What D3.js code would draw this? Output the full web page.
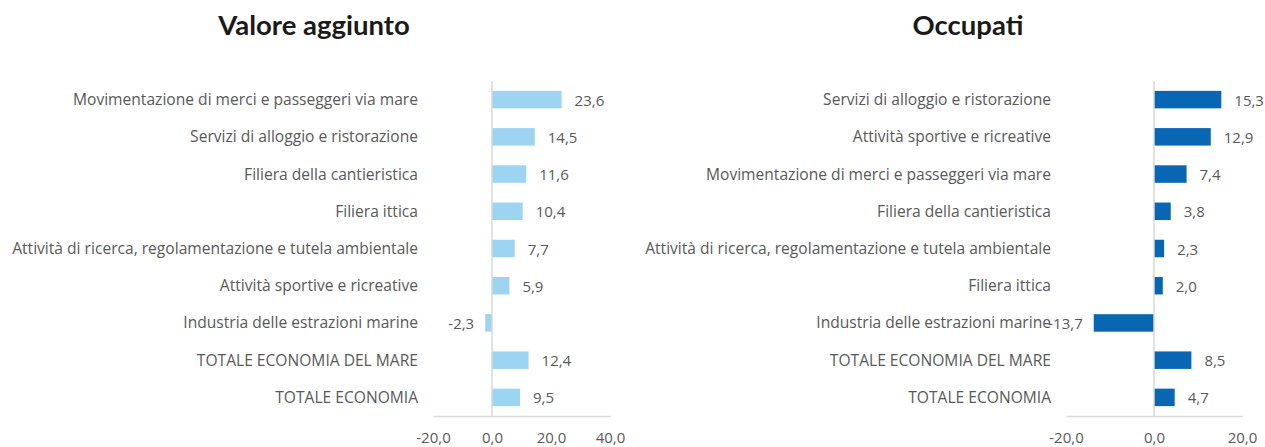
<!DOCTYPE html>
<html>
<head>
<meta charset="utf-8">
<style>
  body {
      margin: 0;
      background: #fff;
      font-family: "Open Sans", sans-serif;
  }
  .axis path { stroke: #d9d9d9; stroke-width: 1.5px; }
  .axis text { fill: #595959; font-size: 15px; font-family: "Open Sans", sans-serif; }
  .cat { fill: #595959; font-size: 15.6px; }
  .val { fill: #595959; font-size: 15px; }
  .title { fill: #1a1a1a; font-size: 27.5px; font-weight: bold; font-family: Lato, sans-serif; }
</style>
</head>
<body>
<script src="https://d3js.org/d3.v7.min.js"></script>
<script>

  // valore aggiunto
  var vaCategories = [
      "Movimentazione di merci e passeggeri via mare",
      "Servizi di alloggio e ristorazione",
      "Filiera della cantieristica",
      "Filiera ittica",
      "Attività di ricerca, regolamentazione e tutela ambientale",
      "Attività sportive e ricreative",
      "Industria delle estrazioni marine",
      "TOTALE ECONOMIA DEL MARE",
      "TOTALE ECONOMIA"
  ];
  var vaValues = [23.6, 14.5, 11.6, 10.4, 7.7, 5.9, -2.3, 12.4, 9.5];
  var vaTicks = [-20, 0, 20, 40];

  // occupati
  var occCategories = [
      "Servizi di alloggio e ristorazione",
      "Attività sportive e ricreative",
      "Movimentazione di merci e passeggeri via mare",
      "Filiera della cantieristica",
      "Attività di ricerca, regolamentazione e tutela ambientale",
      "Filiera ittica",
      "Industria delle estrazioni marine",
      "TOTALE ECONOMIA DEL MARE",
      "TOTALE ECONOMIA"
  ];
  var occValues = [15.3, 12.9, 7.4, 3.8, 2.3, 2.0, -13.7, 8.5, 4.7];
  var occTicks = [-20, 0, 20];

  var width = 1265, height = 447;
  var fmt = function(v) { return d3.format(".1f")(v).replace(".", ",").replace("−", "-"); };

  var svg = d3.select("body").append("svg")
      .attr("width", width)
      .attr("height", height);

  function panel(opt) {
      var g = svg.append("g");

      var x = d3.scaleLinear()
          .domain([opt.ticks[0], opt.ticks[opt.ticks.length - 1]])
          .range(opt.xRange);

      var y = d3.scaleBand()
          .domain(opt.categories)
          .range([81, 416])
          .paddingInner(0.53)
          .paddingOuter(0.265);

      g.append("text")
          .attr("class", "title")
          .attr("x", opt.titleX)
          .attr("y", 35)
          .attr("text-anchor", "middle")
          .text(opt.title);

      g.append("g")
          .attr("class", "axis")
          .attr("transform", "translate(0,416)")
          .call(d3.axisBottom(x)
              .tickValues(opt.ticks)
              .tickSize(0)
              .tickPadding(16)
              .tickFormat(fmt));

      g.selectAll(".bar")
          .data(opt.values)
          .enter().append("rect")
          .attr("class", "bar")
          .attr("x", function(d) { return x(Math.min(0, d)); })
          .attr("y", function(d, i) { return y(opt.categories[i]); })
          .attr("width", function(d) { return Math.abs(x(d) - x(0)); })
          .attr("height", y.bandwidth())
          .attr("fill", opt.color);

      g.append("line")
          .attr("x1", x(0)).attr("x2", x(0))
          .attr("y1", 81).attr("y2", 416)
          .attr("stroke", "#d9d9d9")
          .attr("stroke-width", 1.5);

      g.selectAll(".cat")
          .data(opt.categories)
          .enter().append("text")
          .attr("class", "cat")
          .attr("x", opt.labelX)
          .attr("y", function(d) { return y(d) + y.bandwidth() / 2; })
          .attr("dy", "0.35em")
          .attr("text-anchor", "end")
          .text(function(d) { return d; });

      g.selectAll(".val")
          .data(opt.values)
          .enter().append("text")
          .attr("class", "val")
          .attr("x", function(d) { return d < 0 ? x(d) - 11 : x(d) + 13; })
          .attr("y", function(d, i) { return y(opt.categories[i]) + y.bandwidth() / 2; })
          .attr("dy", "0.4em")
          .attr("text-anchor", function(d) { return d < 0 ? "end" : "start"; })
          .text(fmt);
  }

  panel({
      title: "Valore aggiunto", titleX: 314,
      categories: vaCategories, values: vaValues, ticks: vaTicks,
      xRange: [433, 610], labelX: 418, color: "#9dd4f2"
  });

  panel({
      title: "Occupati", titleX: 968,
      categories: occCategories, values: occValues, ticks: occTicks,
      xRange: [1066, 1242], labelX: 1051, color: "#0866b2"
  });

</script>
</body>
</html>
